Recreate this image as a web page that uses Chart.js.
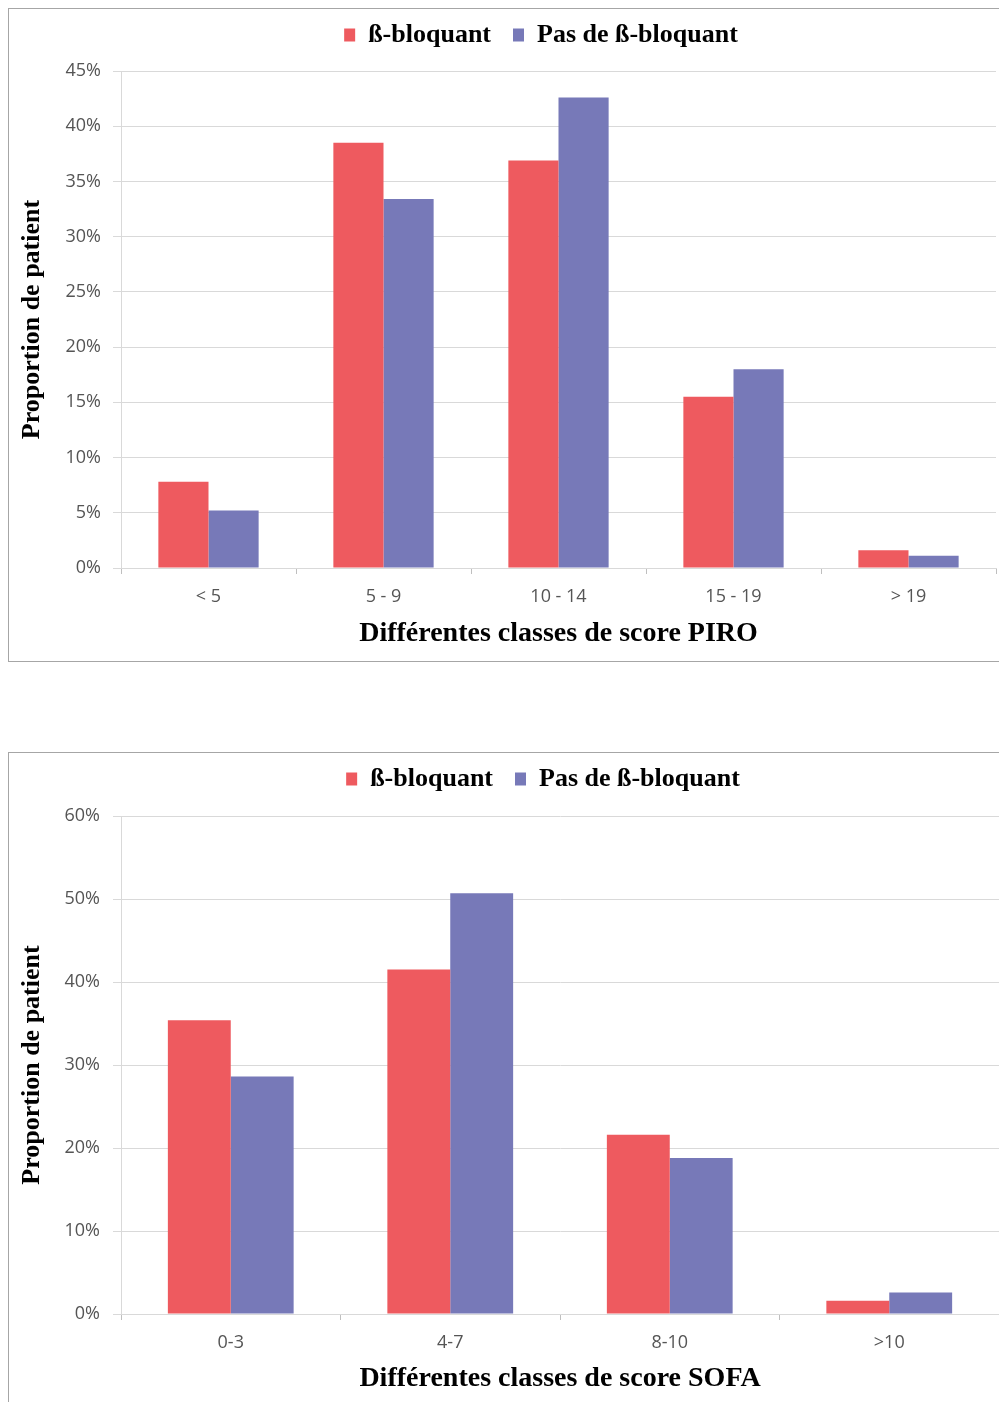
<!DOCTYPE html>
<html>
<head>
<meta charset="utf-8">
<script src="https://cdn.jsdelivr.net/npm/chart.js@4.4.1/dist/chart.umd.min.js"></script>
<style>
    html, body { margin: 0; padding: 0; background: #fff; width: 999px; height: 1402px; overflow: hidden; }
    .cadre { position: absolute; left: 8px; border: 1px solid #a6a6a6; background: #fff; }
    #cadre1 { top: 8px; }
    #cadre2 { top: 752px; }
    canvas { display: block; }
</style>
</head>
<body>
<div class="cadre" id="cadre1"><canvas id="chartPiro" width="1064" height="652"></canvas></div>
<div class="cadre" id="cadre2"><canvas id="chartSofa" width="1068" height="652"></canvas></div>

<script>
// ============= DONNÉES =============
const series = ['ß-bloquant', 'Pas de ß-bloquant'];

const classesPiro  = ['< 5', '5 - 9', '10 - 14', '15 - 19', '> 19'];
const piroBeta     = [7.8, 38.5, 36.9, 15.5, 1.6];
const piroSansBeta = [5.2, 33.4, 42.6, 18.0, 1.1];
const piroTicks    = [0, 5, 10, 15, 20, 25, 30, 35, 40, 45];

const classesSofa  = ['0-3', '4-7', '8-10', '>10'];
const sofaBeta     = [35.4, 41.5, 21.6, 1.6];
const sofaSansBeta = [28.6, 50.7, 18.8, 2.6];
const sofaTicks    = [0, 10, 20, 30, 40, 50, 60];

// ============= COULEURS / POLICES =============
const ROUGE = '#ee5a5f';
const BLEU  = '#7779b8';
const GRILLE = '#d9d9d9';
const SERIF = "'Liberation Serif', 'Times New Roman', serif";
const SANS  = "'Open Sans', 'Liberation Sans', sans-serif";

function graphique(id, labels, dRouge, dBleu, ticks, titreX, g) {
    const ctx = document.getElementById(id);

    // hauteur fixe de la légende
    const legendeFixe = {
        id: 'legendeFixe',
        afterInit(chart) {
            const fit = chart.legend.fit;
            chart.legend.fit = function () { fit.call(this); this.height = g.legH; };
        }
    };

    return new Chart(ctx, {
        type: 'bar',
        data: {
            labels: labels,
            datasets: [
                { label: series[0], data: dRouge, backgroundColor: ROUGE, borderWidth: 0 },
                { label: series[1], data: dBleu,  backgroundColor: BLEU,  borderWidth: 0 }
            ]
        },
        options: {
            responsive: false,
            animation: false,
            categoryPercentage: 0.573,
            barPercentage: 1,
            layout: { padding: { top: g.padTop, left: 0, right: 0, bottom: 0 } },
            plugins: {
                legend: {
                    position: 'top',
                    labels: {
                        boxWidth: 11,
                        boxHeight: 13,
                        padding: 22,
                        color: '#000',
                        font: { family: SERIF, size: 26, weight: 'bold' }
                    }
                },
                tooltip: { enabled: false }
            },
            scales: {
                x: {
                    grid: { display: true, drawOnChartArea: false, tickLength: 6, color: '#bfbfbf' },
                    border: { color: GRILLE },
                    ticks: { color: '#555', padding: 12, font: { family: SANS, size: 18 } },
                    title: {
                        display: true,
                        text: titreX,
                        color: '#000',
                        padding: { top: 0, bottom: g.titreXBas },
                        font: { family: SERIF, size: 28, weight: 'bold' }
                    },
                    afterFit: s => { s.height = g.xH; }
                },
                y: {
                    min: ticks[0],
                    max: ticks[ticks.length - 1],
                    afterBuildTicks: s => { s.ticks = ticks.map(v => ({ value: v })); },
                    grid: { color: GRILLE, tickLength: 8 },
                    border: { color: GRILLE },
                    ticks: {
                        color: '#555',
                        padding: g.yPad,
                        font: { family: SANS, size: 18 },
                        callback: v => v + '%'
                    },
                    title: {
                        display: true,
                        text: 'Proportion de patient',
                        color: '#000',
                        padding: { top: 8, bottom: 0 },
                        font: { family: SERIF, size: 26, weight: 'bold' }
                    },
                    afterFit: s => { s.width = g.yW; }
                },
                marge: {
                    type: 'linear',
                    position: 'right',
                    grid: { display: false },
                    border: { display: false },
                    ticks: { display: false },
                    afterFit: s => { s.width = g.droite; }
                }
            }
        },
        plugins: [legendeFixe]
    });
}

document.addEventListener('DOMContentLoaded', () => {
    graphique('chartPiro', classesPiro, piroBeta, piroSansBeta, piroTicks,
        'Différentes classes de score PIRO',
        { legH: 71, padTop: -9, xH: 93, titreXBas: 10, yW: 112, yPad: 12, droite: 77 });

    graphique('chartSofa', classesSofa, sofaBeta, sofaSansBeta, sofaTicks,
        'Différentes classes de score SOFA',
        { legH: 72, padTop: -9, xH: 91, titreXBas: 9, yW: 112, yPad: 13, droite: 78 });
});
</script>
</body>
</html>
